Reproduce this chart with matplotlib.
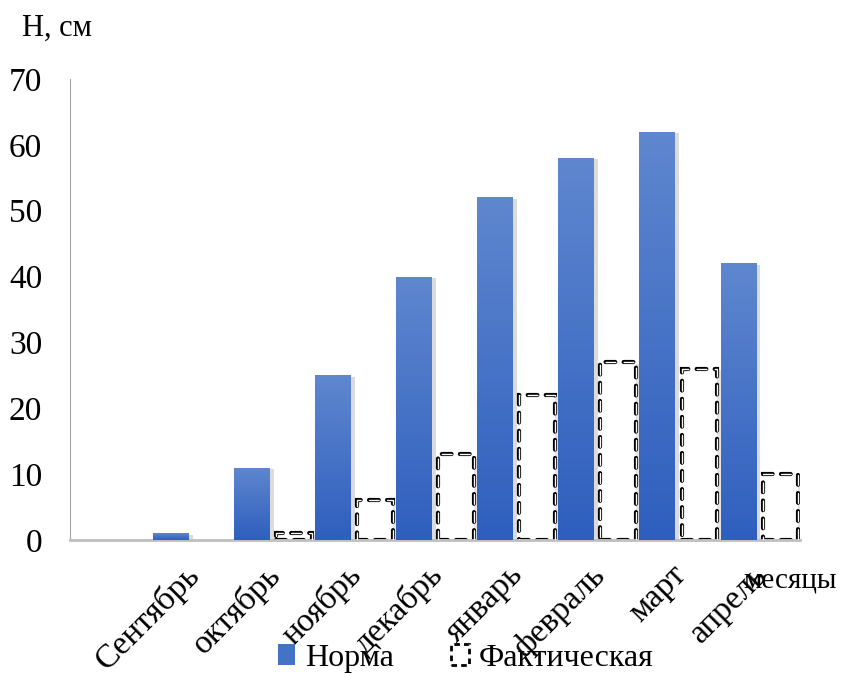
import matplotlib.pyplot as plt
import matplotlib.patheffects as pe
from matplotlib.patches import Patch
from matplotlib.colors import LinearSegmentedColormap
from matplotlib.transforms import ScaledTranslation
import numpy as np

plt.rcParams['font.family'] = ['Liberation Serif', 'DejaVu Serif']
plt.rcParams['lines.scale_dashes'] = False

months = ['Сентябрь', 'октябрь', 'ноябрь', 'декабрь', 'январь', 'февраль', 'март', 'апрель']
norma = [1, 11, 25, 40, 52, 58, 62, 42]
fact = [0, 1, 6, 13, 22, 27, 26, 10]

fig = plt.figure(figsize=(8.45, 6.77), dpi=100)
ax = fig.add_axes([0.0828, 0.2024, 0.864, 0.681])

x = np.arange(1, len(months) + 1)
bw = 0.44
off = 0.26

grad = LinearSegmentedColormap.from_list('g', ['#2F5FBE', '#5F87CF'])
gimg = np.linspace(0, 1, 100).reshape(-1, 1)

bars = ax.bar(x - off, norma, bw, color='#4472C4', zorder=2,
              path_effects=[pe.SimplePatchShadow(offset=(3, -1), shadow_rgbFace='#999999', alpha=0.35), pe.Normal()])
for b in bars:
    x0, w, h = b.get_x(), b.get_width(), b.get_height()
    im = ax.imshow(gimg, cmap=grad, aspect='auto', origin='lower',
                   extent=(x0, x0 + w, 0, h), zorder=3)
    im.set_clip_path(b)

dash = (0, (7, 6))
for xi, v in zip(x + off, fact):
    if v <= 0:
        continue
    ax.bar(xi, v, bw, facecolor='white', edgecolor='black', linewidth=3.0,
           linestyle=dash, capstyle='round', zorder=2,
           path_effects=[pe.SimplePatchShadow(offset=(3, -1), shadow_rgbFace='#999999', alpha=0.25), pe.Normal()])
    ax.bar(xi, v, bw, facecolor='none', edgecolor='white', linewidth=1.0,
           linestyle=dash, capstyle='round', zorder=3)

ax.set_xlim(-0.5, 8.5)
ax.set_ylim(0, 70)
ax.set_yticks(range(0, 71, 10))
ax.set_xticks(x)
ax.set_xticklabels(months, rotation=45, ha='right', va='top', rotation_mode='anchor')
ax.tick_params(axis='y', length=0, labelsize=24, pad=20)
ax.tick_params(axis='x', length=0, labelsize=24, pad=14)
shift = ScaledTranslation(-0.08, 0, fig.dpi_scale_trans)
for lab in ax.get_xticklabels():
    lab.set_transform(lab.get_transform() + shift)

for s in ['top', 'right']:
    ax.spines[s].set_visible(False)
ax.spines['left'].set_color('#A6A6A6')
ax.spines['bottom'].set_color('#BFBFBF')
ax.spines['bottom'].set_linewidth(2)

fig.text(0.026, 0.958, 'Н, см', fontsize=22, va='center', ha='left')
fig.text(0.88, 0.142, 'месяцы', fontsize=21, va='center', ha='left')

handles = [Patch(facecolor='#4472C4', edgecolor='none'),
           Patch(facecolor='white', edgecolor='black', linestyle=(0, (4, 3)), linewidth=2)]
fig.legend(handles, ['Норма', 'Фактическая'], loc='lower center', bbox_to_anchor=(0.551, -0.036),
           ncol=2, frameon=False, fontsize=23, handlelength=0.55, handleheight=0.6,
           handletextpad=0.3, columnspacing=1.8)

fig.savefig('out.png', dpi=100)
